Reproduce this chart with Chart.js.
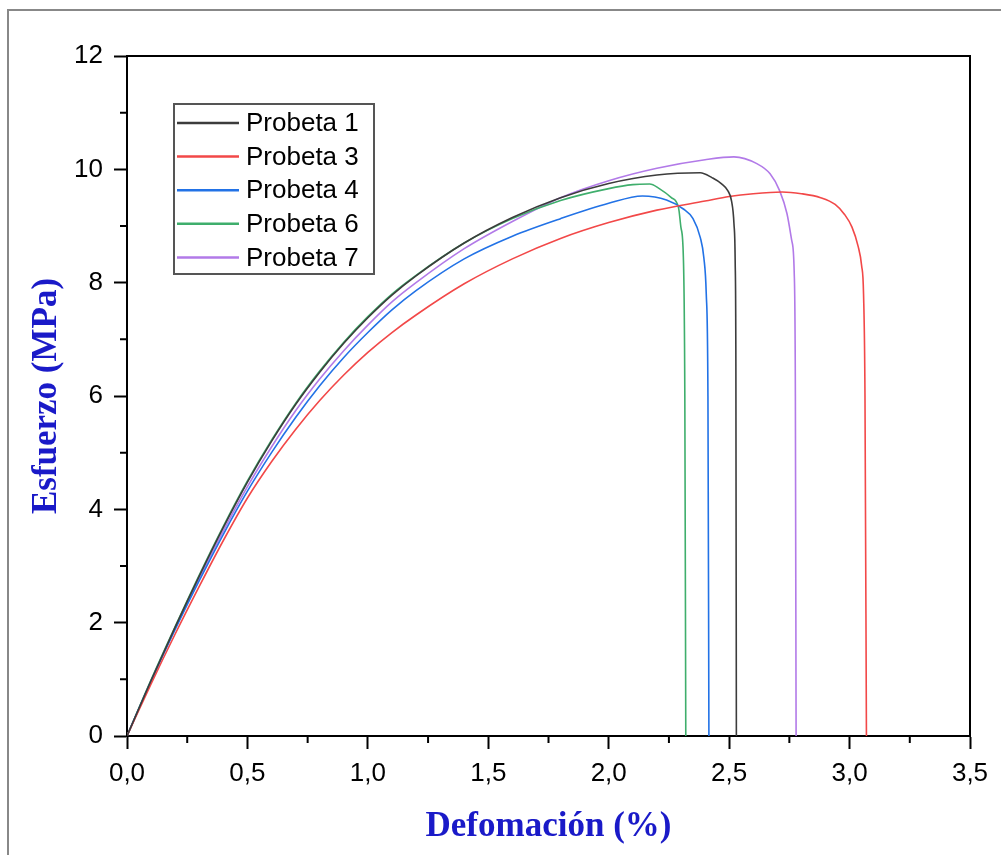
<!DOCTYPE html>
<html>
<head>
<meta charset="utf-8">
<title>Esfuerzo vs Defomación</title>
<script src="https://cdn.jsdelivr.net/npm/chart.js@4/dist/chart.umd.min.js"></script>
<style>
  body { margin: 0; background: #fff; }
  #wrap { width: 1001px; height: 855px; position: relative; }
</style>
</head>
<body>
<div id="wrap"><canvas id="chart" width="1001" height="855"></canvas></div>
<script>
// valores (deformacion %, esfuerzo MPa)
const seriesNames = ["Probeta 1", "Probeta 3", "Probeta 4", "Probeta 6", "Probeta 7"];
const seriesColors = ["#3c3c3c", "#f24848", "#2272e6", "#3fae6c", "#b27ae8"];

const p1Strain = [0, 0.1, 0.2, 0.3, 0.4, 0.5, 0.6, 0.7, 0.8, 0.9, 1.0, 1.1, 1.2, 1.4, 1.6, 1.8, 2.0, 2.2, 2.38, 2.43, 2.47, 2.495, 2.51, 2.52, 2.525, 2.528, 2.53];
const p1Stress = [0, 0.98, 1.92, 2.82, 3.68, 4.48, 5.2, 5.85, 6.42, 6.93, 7.38, 7.78, 8.12, 8.7, 9.15, 9.5, 9.75, 9.9, 9.94, 9.85, 9.74, 9.62, 9.44, 9.04, 8.39, 6.5, 0];

const p3Strain = [0, 0.1, 0.2, 0.3, 0.4, 0.5, 0.6, 0.7, 0.8, 0.9, 1.0, 1.1, 1.2, 1.4, 1.6, 1.8, 2.0, 2.2, 2.4, 2.5, 2.6, 2.72, 2.8, 2.88, 2.94, 2.98, 3.01, 3.035, 3.05, 3.058, 3.064, 3.07];
const p3Stress = [0, 0.92, 1.8, 2.64, 3.45, 4.2, 4.84, 5.41, 5.92, 6.37, 6.77, 7.12, 7.43, 7.98, 8.42, 8.78, 9.06, 9.28, 9.44, 9.52, 9.57, 9.6, 9.57, 9.5, 9.38, 9.2, 8.98, 8.65, 8.3, 7.8, 6.0, 0];

const p4Strain = [0, 0.1, 0.2, 0.3, 0.4, 0.5, 0.6, 0.7, 0.8, 0.9, 1.0, 1.1, 1.2, 1.4, 1.6, 1.8, 2.0, 2.14, 2.24, 2.31, 2.35, 2.38, 2.395, 2.405, 2.412, 2.416];
const p4Stress = [0, 0.97, 1.88, 2.74, 3.56, 4.32, 5.0, 5.62, 6.18, 6.68, 7.12, 7.52, 7.86, 8.42, 8.82, 9.13, 9.4, 9.53, 9.46, 9.3, 9.13, 8.8, 8.44, 7.8, 6.0, 0];

const p6Strain = [0, 0.1, 0.2, 0.3, 0.4, 0.5, 0.6, 0.7, 0.8, 0.9, 1.0, 1.1, 1.2, 1.4, 1.6, 1.8, 2.0, 2.1, 2.17, 2.21, 2.26, 2.29, 2.30, 2.31, 2.316, 2.32];
const p6Stress = [0, 0.99, 1.93, 2.84, 3.7, 4.5, 5.22, 5.87, 6.44, 6.95, 7.4, 7.8, 8.13, 8.7, 9.13, 9.45, 9.66, 9.73, 9.74, 9.66, 9.5, 9.32, 8.97, 8.44, 6.0, 0];

const p7Strain = [0, 0.1, 0.2, 0.3, 0.4, 0.5, 0.6, 0.7, 0.8, 0.9, 1.0, 1.1, 1.2, 1.4, 1.6, 1.8, 2.0, 2.2, 2.4, 2.52, 2.615, 2.67, 2.71, 2.74, 2.76, 2.77, 2.775, 2.778];
const p7Stress = [0, 0.97, 1.9, 2.78, 3.62, 4.4, 5.1, 5.74, 6.3, 6.8, 7.25, 7.66, 8.0, 8.6, 9.08, 9.5, 9.8, 10.02, 10.17, 10.22, 10.1, 9.92, 9.62, 9.22, 8.74, 8.2, 6.0, 0];

const strainSets = [p1Strain, p3Strain, p4Strain, p6Strain, p7Strain];
const stressSets = [p1Stress, p3Stress, p4Stress, p6Stress, p7Stress];

const xTicks = [0, 0.5, 1.0, 1.5, 2.0, 2.5, 3.0, 3.5];
const yTicks = [0, 2, 4, 6, 8, 10, 12];

const titleBlue = "#1a1ac8";
const sansFont = "'Liberation Sans', Arial, sans-serif";
const serifFont = "'Liberation Serif', 'Times New Roman', serif";

const datasets = seriesNames.map((name, i) => ({
  label: name,
  data: strainSets[i].map((x, j) => ({ x: x, y: stressSets[i][j] })),
  borderColor: seriesColors[i],
  borderWidth: 1.6,
  pointRadius: 0,
  fill: false,
  cubicInterpolationMode: "monotone"
}));

// marco, lineas superior/derecha, ticks menores y leyenda
const extras = {
  id: "extras",
  beforeDraw(chart) {
    const c = chart.ctx;
    c.save();
    c.fillStyle = "#fff";
    c.fillRect(0, 0, chart.width, chart.height);
    c.strokeStyle = "#888";
    c.lineWidth = 2;
    c.beginPath();
    c.moveTo(8, chart.height);
    c.lineTo(8, 10);
    c.lineTo(chart.width, 10);
    c.stroke();
    c.restore();
  },
  afterDraw(chart) {
    const c = chart.ctx;
    const a = chart.chartArea;
    const xs = chart.scales.x;
    const ys = chart.scales.y;
    c.save();
    c.strokeStyle = "#000";
    c.lineWidth = 2;
    c.beginPath();
    c.moveTo(a.left, a.top);
    c.lineTo(a.right, a.top);
    c.lineTo(a.right, a.bottom);
    c.stroke();

    c.beginPath();
    for (let v = 0.25; v < 3.5; v += 0.5) {
      const px = xs.getPixelForValue(v);
      c.moveTo(px, a.bottom);
      c.lineTo(px, a.bottom + 7);
    }
    for (let v = 1; v < 12; v += 2) {
      const py = ys.getPixelForValue(v);
      c.moveTo(a.left, py);
      c.lineTo(a.left - 7, py);
    }
    c.stroke();

    // leyenda
    const bx = a.left + 47, by = a.top + 48, bw = 200, bh = 170;
    c.fillStyle = "#fff";
    c.fillRect(bx, by, bw, bh);
    c.strokeStyle = "#555";
    c.lineWidth = 2;
    c.strokeRect(bx, by, bw, bh);
    c.font = "26px " + sansFont;
    c.textBaseline = "middle";
    c.textAlign = "left";
    chart.data.datasets.forEach((ds, i) => {
      const ly = by + 19 + i * 33.6;
      c.strokeStyle = ds.borderColor;
      c.lineWidth = 2.5;
      c.beginPath();
      c.moveTo(bx + 3, ly);
      c.lineTo(bx + 65, ly);
      c.stroke();
      c.fillStyle = "#000";
      c.fillText(ds.label, bx + 72, ly + 1);
    });
    c.restore();
  }
};

new Chart(document.getElementById("chart"), {
  type: "line",
  data: { datasets: datasets },
  options: {
    responsive: false,
    animation: false,
    layout: { padding: { left: 0, top: 56, right: 31, bottom: 0 } },
    plugins: {
      legend: { display: false },
      tooltip: { enabled: false }
    },
    scales: {
      x: {
        type: "linear",
        min: 0,
        max: 3.5,
        afterFit: s => { s.height = 119; },
        afterBuildTicks: s => { s.ticks = xTicks.map(v => ({ value: v })); },
        grid: { display: true, drawOnChartArea: false, drawTicks: true, tickLength: 13, tickWidth: 2, tickColor: "#000" },
        border: { display: true, color: "#000", width: 2 },
        ticks: {
          padding: 9,
          color: "#000",
          font: { family: sansFont, size: 26 },
          maxRotation: 0,
          callback: v => v.toFixed(1).replace(".", ",")
        },
        title: {
          display: true,
          text: "Defomación (%)",
          color: titleBlue,
          font: { family: serifFont, size: 35, weight: "bold" },
          padding: { top: 0, bottom: 7 }
        }
      },
      y: {
        type: "linear",
        min: 0,
        max: 12,
        afterFit: s => { s.width = 127; },
        afterBuildTicks: s => { s.ticks = yTicks.map(v => ({ value: v })); },
        grid: { display: true, drawOnChartArea: false, drawTicks: true, tickLength: 13, tickWidth: 2, tickColor: "#000" },
        border: { display: true, color: "#000", width: 2 },
        ticks: {
          padding: 11,
          color: "#000",
          font: { family: sansFont, size: 26 },
          callback: v => String(v)
        },
        title: {
          display: true,
          text: "Esfuerzo (MPa)",
          color: titleBlue,
          font: { family: serifFont, size: 35, weight: "bold" },
          padding: { top: 26, bottom: 0 }
        }
      }
    }
  },
  plugins: [extras]
});
</script>
</body>
</html>
